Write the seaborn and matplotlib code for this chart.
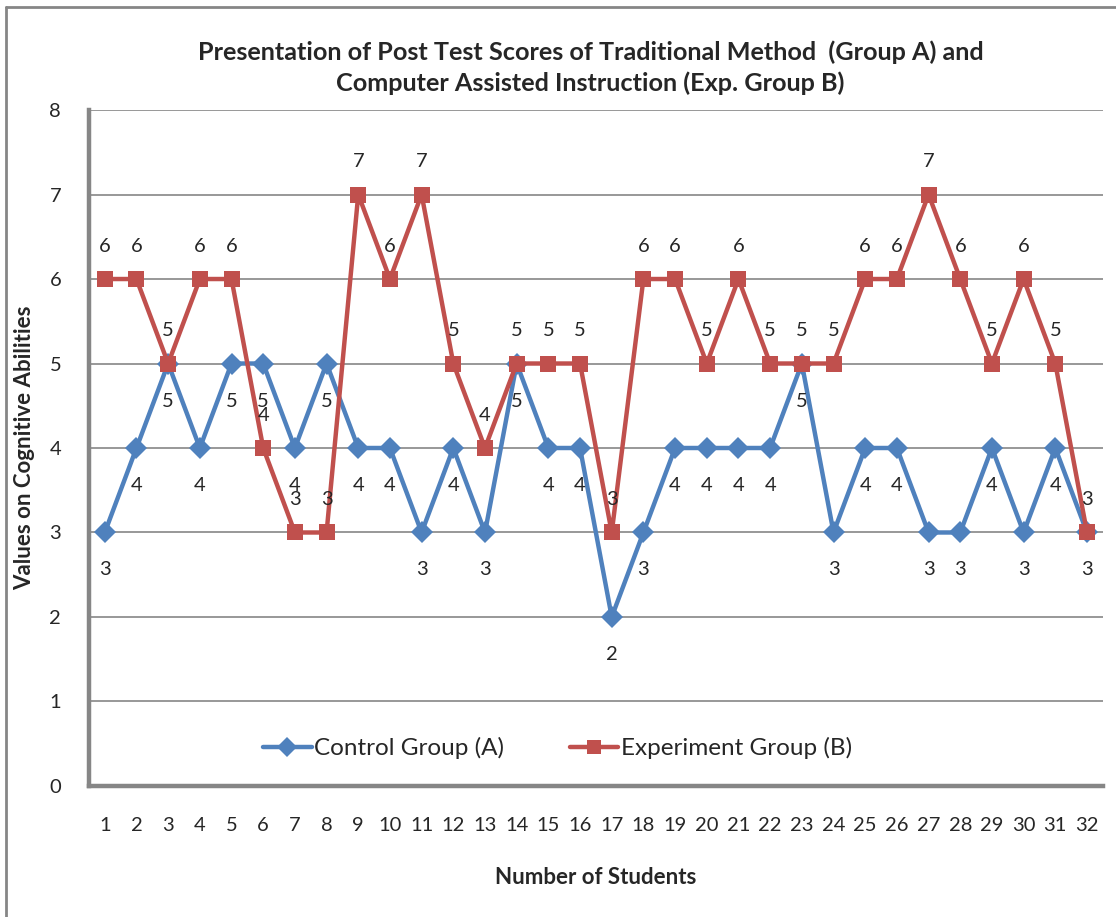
import numpy as np
import pandas as pd
import matplotlib
matplotlib.use("Agg")
import matplotlib.pyplot as plt
from matplotlib.lines import Line2D
import seaborn as sns

# Post test scores
students = list(range(1, 33))
control_a = [3, 4, 5, 4, 5, 5, 4, 5, 4, 4, 3, 4, 3, 5, 4, 4,
             2, 3, 4, 4, 4, 4, 5, 3, 4, 4, 3, 3, 4, 3, 4, 3]
experiment_b = [6, 6, 5, 6, 6, 4, 3, 3, 7, 6, 7, 5, 4, 5, 5, 5,
                3, 6, 6, 5, 6, 5, 5, 5, 6, 6, 7, 6, 5, 6, 5, 3]
series_names = ["Control Group (A)", "Experiment Group (B)"]
y_ticks = list(range(0, 9))

title = ("Presentation of Post Test Scores of Traditional Method  (Group A) and\n"
         "Computer Assisted Instruction (Exp. Group B)")
x_label = "Number of Students"
y_label = "Values on Cognitive Abilities"

blue = "#4F81BD"
red = "#C0504D"
axis_grey = "#868686"

df = pd.DataFrame({
    "Student": students * 2,
    "Score": control_a + experiment_b,
    "Group": [series_names[0]] * len(students) + [series_names[1]] * len(students),
})

sns.set_theme(style="white")
plt.rcParams["font.family"] = ["Lato", "DejaVu Sans"]

fig = plt.figure(figsize=(11.16, 9.17), dpi=100)
ax = fig.add_axes([0.0797, 0.1429, 0.9085, 0.7371])

sns.lineplot(data=df, x="Student", y="Score", hue="Group", style="Group",
             palette=[blue, red], markers=["D", "s"], dashes=False,
             markersize=11, markeredgewidth=0, linewidth=3.2,
             legend=False, ax=ax)

# data labels: blue below, red above
for x, v in zip(students, control_a):
    ax.annotate(str(v), (x, v), xytext=(0, -27), textcoords="offset points",
                ha="center", va="center", fontsize=14.5, color="#262626")
for x, v in zip(students, experiment_b):
    ax.annotate(str(v), (x, v), xytext=(0, 23.5), textcoords="offset points",
                ha="center", va="center", fontsize=14.5, color="#262626")

ax.set_xlim(0.5, 32.5)
ax.set_ylim(0, 8)
ax.set_xticks(students)
ax.set_xticklabels([str(s) for s in students], fontsize=14.5, color="#262626")
ax.set_yticks(y_ticks)
ax.set_yticklabels([str(t) for t in y_ticks], fontsize=14.5, color="#262626")
ax.tick_params(axis="x", length=0, pad=22)
ax.tick_params(axis="y", length=0, pad=20)
ax.grid(axis="y", color=axis_grey, linewidth=1.2)
ax.grid(axis="x", visible=False)
ax.set_axisbelow(True)

for side in ["top", "right"]:
    ax.spines[side].set_visible(False)
for side in ["left", "bottom"]:
    ax.spines[side].set_color(axis_grey)
    ax.spines[side].set_linewidth(3.2)

ax.set_xlabel(x_label, fontsize=16, fontweight="bold", labelpad=24)
ax.set_ylabel(y_label, fontsize=16, fontweight="bold", labelpad=10)

handles = [
    Line2D([], [], color=blue, lw=3.2, marker="D", ms=10, mew=0),
    Line2D([], [], color=red, lw=3.2, marker="s", ms=10, mew=0),
]
ax.legend(handles, series_names, loc="center", bbox_to_anchor=(0.462, 0.0555),
          ncol=2, frameon=False, fontsize=17.5, handlelength=2.0,
          handletextpad=0.1, columnspacing=2.7)

fig.text(0.529, 0.926, title, ha="center", va="center", fontsize=18.2,
         fontweight="bold", linespacing=1.4)

# chart frame (left and top edges visible in the screenshot)
fig.add_artist(Line2D([0.0055, 0.0055], [0, 0.992], color=axis_grey, lw=2,
                      transform=fig.transFigure))
fig.add_artist(Line2D([0.0055, 1.0], [0.992, 0.992], color=axis_grey, lw=2,
                      transform=fig.transFigure))

fig.savefig("out.png", dpi=100, facecolor="white")
